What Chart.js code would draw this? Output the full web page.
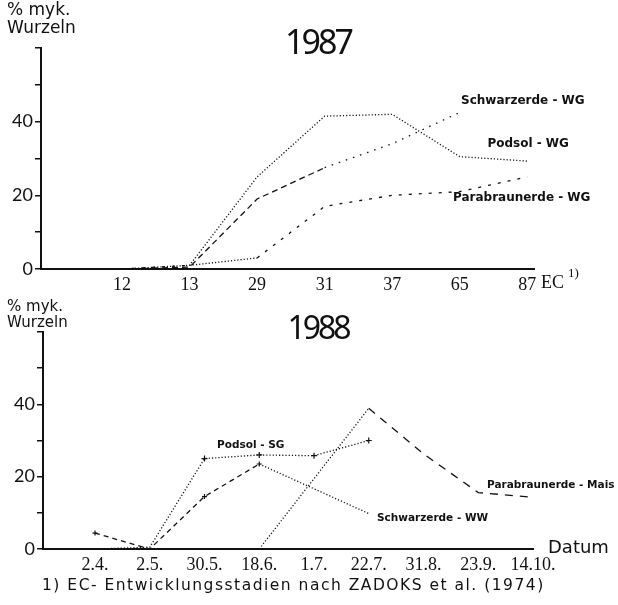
<!DOCTYPE html>
<html>
<head>
<meta charset="utf-8">
<script src="https://cdn.jsdelivr.net/npm/chart.js@4.4.1/dist/chart.umd.min.js"></script>
<style>
  body { margin: 0; background: #fff; }
  #page { position: relative; width: 618px; height: 605px; overflow: hidden; color: #111; }
  canvas { position: absolute; left: 0; }
  #chart87 { top: 0; }
  #chart88 { top: 290px; }
  .txt { position: absolute; white-space: nowrap; line-height: 1; }
  .ylab { left: 7px; font-family: "DejaVu Sans"; font-size: 17px; line-height: 18px; }
  .year { width: 200px; text-align: center; font-family: "Noto Sans"; letter-spacing: -3px; }
  .serif { font-family: "Liberation Serif"; }
</style>
</head>
<body>
<div id="page">
  <canvas id="chart87" width="618" height="300"></canvas>
  <canvas id="chart88" width="618" height="300"></canvas>

  <div class="txt ylab" style="top:0px">% myk.<br>Wurzeln</div>
  <div class="txt year" style="left:218px; top:24px; font-size:34px">1987</div>
  <div class="txt serif" style="left:541px; top:273px; font-size:18px">EC</div>
  <div class="txt serif" style="left:568px; top:266px; font-size:13px">1)</div>

  <div class="txt ylab" style="top:298px; font-size:15px; line-height:16px">% myk.<br>Wurzeln</div>
  <div class="txt year" style="left:218px; top:311px; font-size:32px">1988</div>
  <div class="txt" style="left:548px; top:538px; font-family:'DejaVu Sans'; font-size:18px">Datum</div>

  <div class="txt" style="left:42px; top:578px; font-family:'DejaVu Sans'; font-size:15.5px; letter-spacing:1.5px">1) EC- Entwicklungsstadien nach ZADOKS et al. (1974)</div>
</div>

<script>
/* ===============================
   DATA
================================ */
// 1987 – EC stages (ZADOKS)
const stages87 = ["12", "13", "29", "31", "37", "65", "87"];
const podsolWG = [0, 1, 25, 41.5, 42, 30.5, 29.3];
const schwarzWG = [0, 0.5, 19, 27.5, 34, 42.5, null];
const parabrWG = [0, 1, 3, 17, 20, 21, 25];

// 1988 – sampling dates
const dates88 = ["2.4.", "2.5.", "30.5.", "18.6.", "1.7.", "22.7.", "31.8.", "23.9.", "14.10."];
const podsolSG = [0, 0.5, 25, 26, 25.8, 30, null, null, null];
const schwarzWW = [4.4, 0, 14.5, 23.5, null, 9.8, null, null, null];
const parabrMais = [null, null, null, 0, null, 38.9, 26.3, 15.6, 14.3];

const yLabelled = [0, 20, 40];

/* ===============================
   HELPERS
================================ */
const INK = "#111";
const DOT = [1.2, 2];
const DASH = [6, 4];
const SPARSE = [1.5, 6];
const SHORT = [3, 7];

function series(values, dash, extra) {
  return Object.assign({
    data: values.map((v, i) => ({ x: i, y: v })),
    borderColor: INK,
    backgroundColor: INK,
    borderWidth: 1.3,
    borderDash: dash,
    pointRadius: 0,
    pointStyle: "cross",
    pointBorderWidth: 1.2,
    spanGaps: true,
    tension: 0,
    fill: false
  }, extra);
}

// series names written next to the lines, anchored in data units
const curveLabels = {
  id: "curveLabels",
  afterDatasetsDraw(chart, args, opts) {
    const { ctx, scales: { x, y } } = chart;
    ctx.save();
    ctx.fillStyle = INK;
    ctx.font = `bold ${opts.size}px "DejaVu Sans"`;
    ctx.textAlign = "left";
    ctx.textBaseline = "middle";
    opts.items.forEach(l => ctx.fillText(l.text, x.getPixelForValue(l.x), y.getPixelForValue(l.y)));
    ctx.restore();
  }
};

function makeChart(id, cats, xMin, xMax, yWidth, padding, datasets, labels, labelSize) {
  return new Chart(document.getElementById(id), {
    type: "line",
    data: { datasets },
    plugins: [curveLabels],
    options: {
      responsive: false,
      animation: false,
      layout: { padding },
      plugins: {
        legend: { display: false },
        tooltip: { enabled: false },
        curveLabels: { items: labels, size: labelSize }
      },
      scales: {
        x: {
          type: "linear",
          min: xMin,
          max: xMax,
          grid: { display: false, drawTicks: false },
          border: { color: INK, width: 2 },
          afterBuildTicks: s => { s.ticks = cats.map((_, i) => ({ value: i })); },
          afterFit: s => { s.height = 24; },
          ticks: {
            padding: 5,
            autoSkip: false,
            maxRotation: 0,
            color: INK,
            font: { family: "Liberation Serif", size: 18 },
            callback: v => cats[v]
          }
        },
        y: {
          min: 0,
          max: 60,
          grid: { drawOnChartArea: false, tickLength: 6, color: INK, lineWidth: 1.5 },
          border: { color: INK, width: 2 },
          afterFit: s => { s.width = yWidth; },
          ticks: {
            stepSize: 10,
            padding: 2,
            color: INK,
            font: { family: "Lato", size: 18 },
            callback: v => yLabelled.includes(v) ? String(v) : ""
          }
        }
      }
    }
  });
}

/* ===============================
   1987
================================ */
makeChart("chart87", stages87, -1.2, 6.1, 41,
  { top: 48, right: 84, bottom: 7, left: 0 },
  [
    series(podsolWG, DOT),
    series(schwarzWG, DASH, { segment: { borderDash: c => c.p0DataIndex < 3 ? DASH : SPARSE } }),
    series(parabrWG, SHORT, { segment: { borderDash: c => c.p0DataIndex === 1 ? DOT : SHORT } })
  ],
  [
    { text: "Schwarzerde - WG", x: 5.02, y: 45.6 },
    { text: "Podsol - WG", x: 5.41, y: 33.9 },
    { text: "Parabraunerde - WG", x: 4.9, y: 19.3 }
  ], 12);

/* ===============================
   1988
================================ */
makeChart("chart88", dates88, -0.95, 8, 43,
  { top: 42, right: 85, bottom: 17, left: 0 },
  [
    series(podsolSG, DOT, { pointRadius: c => c.dataIndex >= 2 ? 3 : 0 }),
    series(schwarzWW, DASH, {
      segment: { borderDash: c => c.p0DataIndex < 3 ? [5, 4] : DOT },
      pointRadius: c => [0, 2, 3].includes(c.dataIndex) ? 2.5 : 0
    }),
    series(parabrMais, DOT, { segment: { borderDash: c => c.p0DataIndex < 5 ? DOT : [8, 7] } })
  ],
  [
    { text: "Podsol - SG", x: 2.23, y: 28.8 },
    { text: "Schwarzerde - WW", x: 5.15, y: 8.6 },
    { text: "Parabraunerde - Mais", x: 7.16, y: 17.7 }
  ], 10.5);
</script>
</body>
</html>
